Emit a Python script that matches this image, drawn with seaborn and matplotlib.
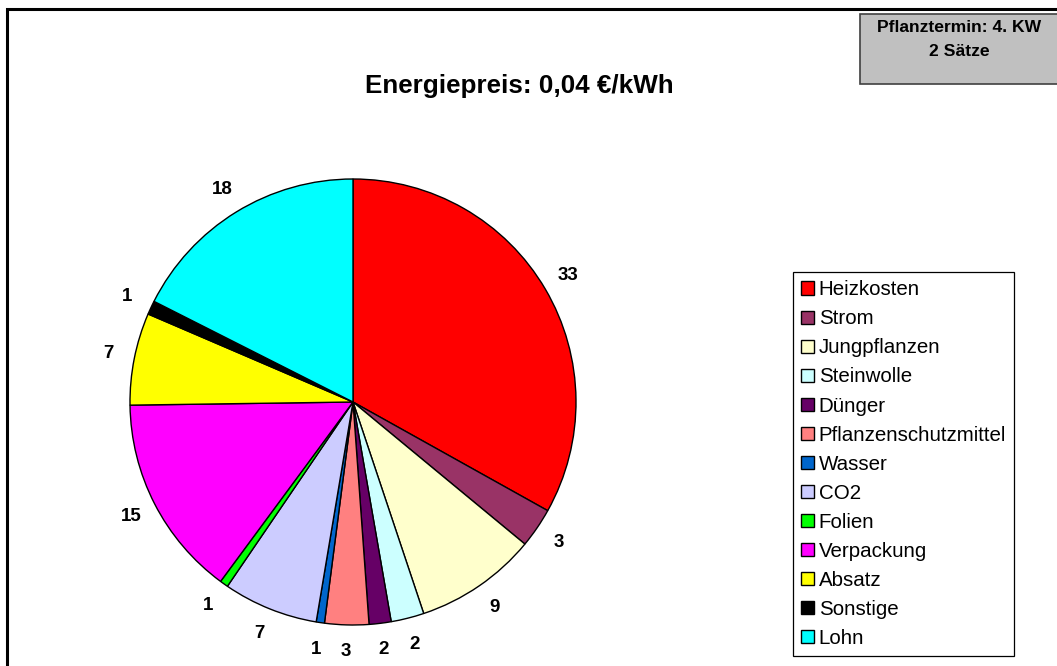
import matplotlib
matplotlib.use("Agg")
import matplotlib.pyplot as plt
import seaborn as sns
from matplotlib.patches import Rectangle, Patch

# Kostenanteile in %
kategorien = ['Heizkosten', 'Strom', 'Jungpflanzen', 'Steinwolle', 'Dünger',
              'Pflanzenschutzmittel', 'Wasser', 'CO2', 'Folien', 'Verpackung',
              'Absatz', 'Sonstige', 'Lohn']
anteile = [33.2, 2.9, 8.9, 2.4, 1.6, 3.2, 0.6, 6.9, 0.6, 14.7, 6.7, 1.0, 17.6]
farben = ['#FF0000', '#993366', '#FFFFCC', '#CCFFFF', '#660066', '#FF8080',
          '#0066CC', '#CCCCFF', '#00FF00', '#FF00FF', '#FFFF00', '#000000', '#00FFFF']

titel = 'Energiepreis: 0,04 €/kWh'
info_zeilen = ['Pflanztermin: 4. KW', '2 Sätze']

sns.set_theme(style='white')
plt.rcParams['font.family'] = ['Liberation Sans', 'DejaVu Sans']
plt.rcParams['text.color'] = 'black'

W, H = 1057, 666
fig = plt.figure(figsize=(W / 100, H / 100), dpi=100)
fig.patch.set_facecolor('white')

# Rahmen des Diagrammbereichs (nur oben und links sichtbar)
fig.patches.append(Rectangle((7 / W, -0.05), 1.2, 1 - 9 / H + 0.05, transform=fig.transFigure,
                             fill=False, edgecolor='black', linewidth=2.2, zorder=0))

# Kreis: Mittelpunkt (353, 402) px, Radius 223 px
cx, cy, r = 353, 402, 223
ax = fig.add_axes([(cx - r) / W, (H - cy - r) / H, 2 * r / W, 2 * r / H])
beschriftung = [f'{v:.0f}' for v in anteile]
wedges, texte = ax.pie(anteile, colors=farben, startangle=90, counterclock=False,
                       labels=beschriftung, labeldistance=1.12, radius=1,
                       wedgeprops=dict(edgecolor='black', linewidth=1.0))
for t in texte:
    t.set_ha('center')
    t.set_va('center')
    t.set_fontsize(13.5)
    t.set_fontweight('bold')
    t.set_color('black')
ax.set_xlim(-1, 1)
ax.set_ylim(-1, 1)
ax.set_aspect('equal')
ax.axis('off')

fig.text(519 / W, 1 - 86 / H, titel, ha='center', va='center',
         fontsize=18.7, fontweight='bold', color='black')

# grauer Infokasten oben rechts
fig.patches.append(Rectangle((860 / W, 1 - 84 / H), 200 / W, 70 / H, transform=fig.transFigure,
                             facecolor='#C0C0C0', edgecolor='#404040', linewidth=1.2, zorder=1))
for zeile, y in zip(info_zeilen, [27, 52]):
    fig.text(959 / W, 1 - y / H, zeile, ha='center', va='center', fontsize=12.6,
             fontweight='bold', color='black', zorder=2)

handles = [Patch(facecolor=c, edgecolor='black', linewidth=1.0) for c in farben]
leg = fig.legend(handles, kategorien, loc='upper left',
                 bbox_to_anchor=(793 / W, 1 - 272 / H), fontsize=14.8,
                 handlelength=0.6, handleheight=0.6, handletextpad=0.25,
                 labelspacing=0.49, borderpad=0.4, borderaxespad=0,
                 frameon=True, fancybox=False, framealpha=1)
leg.get_frame().set_edgecolor('black')
leg.get_frame().set_linewidth(0.9)
for t in leg.get_texts():
    t.set_color('black')

fig.savefig('out.png', dpi=100, facecolor='white')
